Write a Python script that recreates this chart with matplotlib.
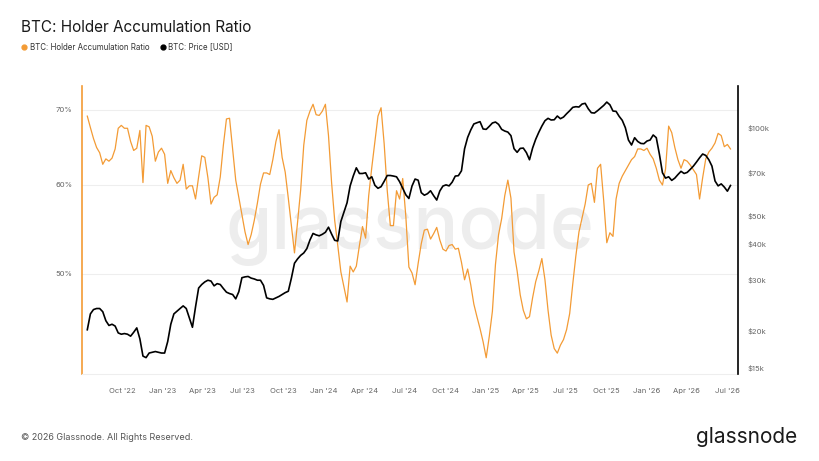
import pandas as pd
import matplotlib
matplotlib.use('Agg')
import matplotlib.pyplot as plt
import matplotlib.dates as mdates
from matplotlib.lines import Line2D
from matplotlib.ticker import FixedLocator, NullLocator, FuncFormatter

plt.rcParams['font.family'] = ['Inter', 'DejaVu Sans']

# weekly samples, starting 2022-07-14
start_date = '2022-07-14'

# BTC: Holder Accumulation Ratio [%]
har = [69.1, 67.5, 66.0, 64.8, 64.1, 62.6, 63.3, 63.0, 63.4, 64.6,
       67.4, 67.8, 67.4, 67.4, 65.6, 64.4, 64.7, 67.1, 60.3, 67.8,
       67.6, 66.3, 63.0, 64.2, 64.7, 63.9, 60.2, 61.8, 60.9, 60.2,
       60.6, 62.6, 59.5, 59.9, 59.9, 58.3, 61.0, 63.7, 63.5, 60.9,
       57.7, 58.5, 58.8, 61.0, 65.1, 68.7, 68.8, 64.6, 60.6, 58.5,
       56.5, 54.5, 53.1, 54.2, 55.8, 57.8, 60.1, 61.5, 61.5, 61.3,
       63.2, 65.6, 67.2, 63.5, 61.6, 58.4, 55.2, 52.2, 55.6, 59.4,
       65.1, 68.5, 69.8, 70.8, 69.3, 69.2, 69.8, 70.8, 66.4, 60.3,
       55.8, 53.0, 50.2, 48.7, 47.2, 50.8, 50.2, 50.8, 53.0, 55.1,
       53.8, 58.7, 62.2, 65.6, 69.1, 70.3, 65.3, 59.3, 55.2, 55.2,
       59.3, 58.3, 60.8, 56.3, 50.7, 50.1, 48.9, 51.1, 53.2, 54.7,
       54.8, 53.7, 54.3, 55.0, 53.6, 52.6, 52.4, 53.0, 53.1, 52.6,
       52.7, 51.2, 49.4, 50.5, 48.9, 47.0, 45.8, 44.7, 43.5, 42.1,
       44.0, 46.3, 51.0, 54.2, 56.0, 58.7, 60.6, 58.4, 52.3, 50.3,
       47.9, 46.4, 45.6, 45.8, 47.6, 49.2, 50.3, 51.6, 49.4, 46.4,
       44.1, 42.9, 42.5, 43.2, 43.7, 44.6, 46.1, 49.0, 51.9, 54.5,
       56.1, 57.7, 60.0, 60.2, 57.9, 62.1, 62.6, 58.1, 53.3, 54.4,
       54.0, 58.3, 60.2, 61.1, 61.8, 62.5, 63.2, 63.6, 64.6, 64.6,
       64.4, 64.7, 63.9, 63.3, 62.1, 60.6, 60.0, 62.0, 67.7, 66.8,
       64.8, 63.2, 62.1, 63.2, 63.0, 62.5, 61.9, 61.3, 58.3, 60.9,
       63.3, 64.2, 64.7, 65.4, 66.7, 66.4, 64.9, 65.2, 64.6]

# BTC: Price [USD], thousands
price_k = [20.2, 22.9, 23.7, 23.9, 23.9, 23.3, 21.7, 20.9, 21.1, 20.8,
           19.7, 19.5, 19.6, 19.5, 19.2, 19.8, 20.5, 18.8, 16.4, 16.2,
           16.8, 16.9, 17.0, 16.9, 16.8, 16.8, 18.4, 21.1, 22.9, 23.4,
           23.9, 24.4, 23.9, 22.2, 20.6, 24.2, 28.1, 28.9, 29.5, 29.9,
           29.7, 28.6, 29.1, 28.9, 28.0, 27.2, 26.9, 26.7, 25.8, 27.3,
           30.5, 30.7, 30.8, 30.4, 30.2, 29.9, 29.9, 28.7, 26.0, 25.8,
           25.7, 26.0, 26.3, 26.7, 27.1, 27.4, 30.4, 34.2, 35.4, 36.4,
           37.1, 38.4, 41.1, 43.3, 42.8, 42.5, 43.0, 43.7, 45.5, 43.1,
           41.0, 40.8, 47.6, 51.2, 55.2, 63.1, 68.2, 72.8, 69.6, 69.6,
           70.0, 66.6, 67.8, 63.4, 61.9, 62.7, 65.4, 68.5, 68.5, 68.2,
           67.8, 65.2, 61.9, 58.8, 57.1, 63.0, 66.6, 66.0, 59.8, 58.6,
           59.3, 60.7, 58.4, 56.4, 60.6, 63.0, 63.6, 63.1, 65.0, 68.2,
           68.4, 71.1, 84.6, 92.6, 98.2, 103.0, 104.0, 104.9, 99.0, 98.7,
           101.1, 103.8, 104.6, 102.7, 98.7, 97.4, 96.6, 93.9, 84.7, 82.3,
           84.9, 85.1, 82.1, 77.6, 85.1, 91.2, 96.4, 101.3, 105.7, 107.7,
           106.3, 106.5, 109.7, 107.4, 108.8, 111.7, 114.4, 117.5, 118.1, 117.8,
           120.6, 121.3, 116.2, 112.6, 112.3, 114.4, 116.8, 119.3, 122.5, 119.9,
           114.1, 113.8, 109.4, 106.0, 100.0, 90.7, 87.2, 92.4, 89.7, 88.3,
           88.1, 90.0, 90.7, 94.4, 92.4, 81.2, 70.0, 67.1, 67.8, 65.9,
           67.1, 69.0, 70.8, 69.6, 70.2, 71.9, 73.8, 76.2, 78.8, 81.2,
           80.3, 77.6, 73.8, 65.6, 63.1, 64.1, 62.5, 60.5, 63.3]

har_ticks = [50, 60, 70]
price_ticks = [15, 20, 30, 40, 50, 70, 100]
x_ticks = pd.date_range('2022-10-01', '2026-07-01', freq='QS')

ORANGE = '#f39b35'
GREY = '#666666'

dates = pd.date_range(start_date, periods=len(har), freq='7D')

fig = plt.figure(figsize=(8.2, 4.61), dpi=100)
ax = fig.add_axes([0.1, 0.1887, 0.8, 0.6247])

# watermark
ax.text(0.5, 0.5, 'glassnode', transform=ax.transAxes, ha='center', va='center',
        fontsize=54, fontweight='medium', color='#ededed', zorder=0)

ax.plot(dates, har, color=ORANGE, lw=0.9, zorder=2)
ax.set_yscale('log')
ax.set_ylim(40.72, 73.5)
ax.yaxis.set_major_locator(FixedLocator(har_ticks))
ax.yaxis.set_minor_locator(NullLocator())
ax.yaxis.set_major_formatter(FuncFormatter(lambda v, p: '{:.0f}%'.format(v)))
ax.grid(axis='y', color='#eeeeee', lw=0.8)
ax.set_axisbelow(True)

ax.set_xlim(pd.Timestamp('2022-07-02'), pd.Timestamp('2026-07-26'))
ax.xaxis.set_major_locator(FixedLocator(mdates.date2num(x_ticks)))
ax.xaxis.set_major_formatter(mdates.DateFormatter("%b '%y"))

ax.tick_params(axis='y', length=0, pad=7, labelsize=5.5, labelcolor=GREY)
ax.tick_params(axis='x', length=0, pad=10, labelsize=5.5, labelcolor=GREY)

ax.spines['top'].set_visible(False)
ax.spines['right'].set_visible(False)
ax.spines['bottom'].set_color('#eeeeee')
ax.spines['left'].set_color(ORANGE)
ax.spines['left'].set_linewidth(1.2)

ax2 = ax.twinx()
ax2.plot(dates, price_k, color='#000000', lw=1.2, zorder=3)
ax2.set_yscale('log')
ax2.set_ylim(14.23, 139.1)
ax2.yaxis.set_major_locator(FixedLocator(price_ticks))
ax2.yaxis.set_minor_locator(NullLocator())
ax2.yaxis.set_major_formatter(FuncFormatter(lambda v, p: '${:.0f}k'.format(v)))
ax2.tick_params(axis='y', length=0, pad=7, labelsize=5.5, labelcolor=GREY)
for s in ['top', 'bottom', 'left']:
    ax2.spines[s].set_visible(False)
ax2.spines['right'].set_color('#000000')
ax2.spines['right'].set_linewidth(1.2)

# title and legend
fig.text(0.0256, 0.9414, 'BTC: Holder Accumulation Ratio', fontsize=11,
         color='#1a1a1a', ha='left', va='center')
fig.add_artist(Line2D([0.0293], [0.898], marker='o', ms=3.5, color=ORANGE,
                      lw=0, transform=fig.transFigure))
fig.text(0.0366, 0.898, 'BTC: Holder Accumulation Ratio', fontsize=5.7,
         color='#333333', ha='left', va='center')
fig.add_artist(Line2D([0.1988], [0.898], marker='o', ms=3.5, color='#000000',
                      lw=0, transform=fig.transFigure))
fig.text(0.2049, 0.898, 'BTC: Price [USD]', fontsize=5.7,
         color='#333333', ha='left', va='center')

# footer
fig.text(0.0256, 0.052, '\u00a9 2026 Glassnode. All Rights Reserved.', fontsize=6.5,
         color='#555555', ha='left', va='center')
fig.text(0.972, 0.052, 'glassnode', fontsize=15, color='#1a1a1a',
         ha='right', va='center')

fig.savefig('out.png', dpi=100)
